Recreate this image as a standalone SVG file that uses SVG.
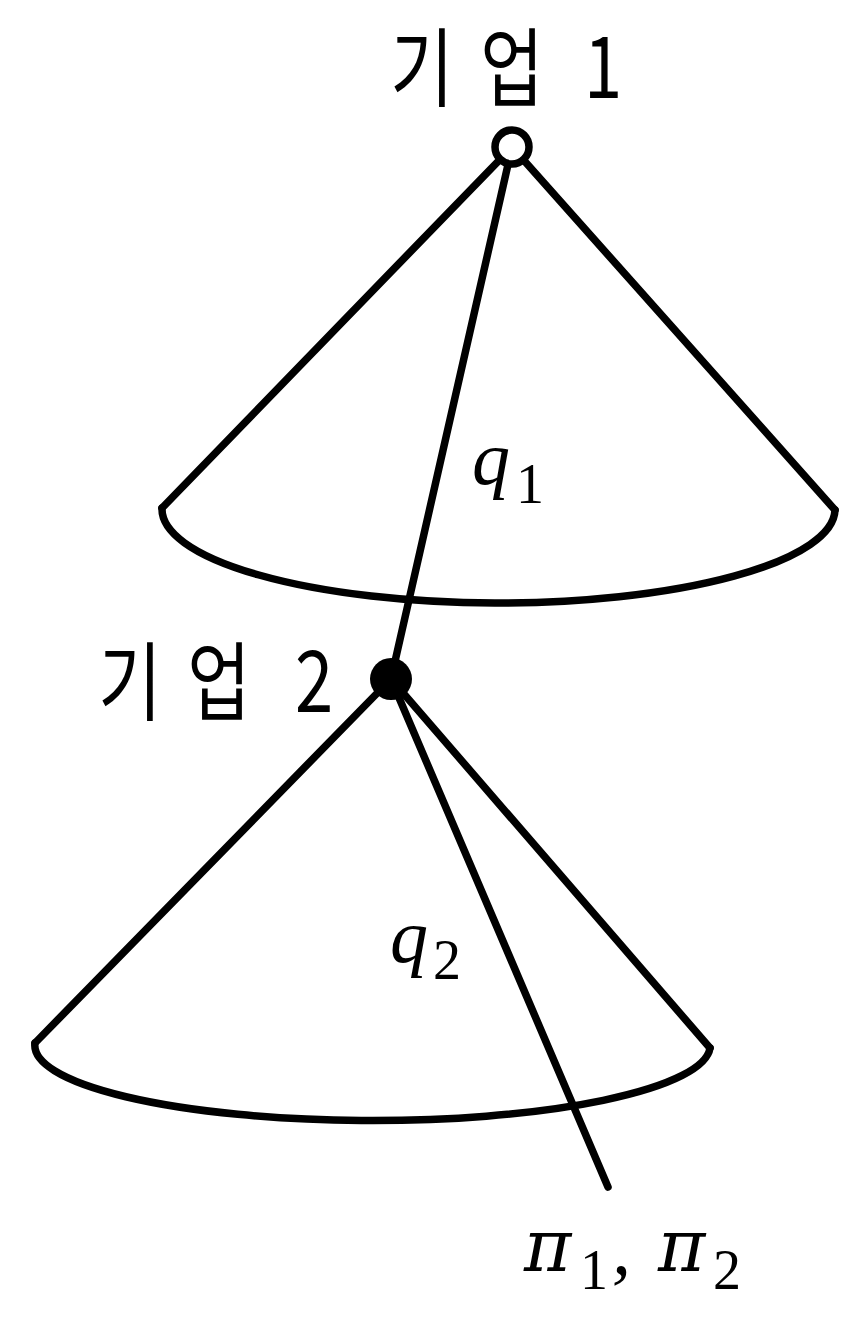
<svg xmlns="http://www.w3.org/2000/svg" width="850" height="1322" viewBox="0 0 850 1322">
<style>
.ln{stroke:#000;stroke-width:7.5;fill:none;stroke-linecap:round;stroke-linejoin:round}
.kr{font-family:"Noto Sans CJK KR","Noto Sans",sans-serif;font-size:86px;fill:#000;text-anchor:middle}
.m{font-family:"Liberation Serif","DejaVu Serif",serif;font-size:76px;font-style:italic;fill:#000}
.pi{font-family:"DejaVu Serif","Liberation Serif",serif;font-size:72px;font-style:italic;fill:#000}
.s{font-family:"Liberation Serif","DejaVu Serif",serif;font-size:56px;font-style:normal;fill:#000}
</style>
<rect width="850" height="1322" fill="#fff"/>
<g id="connectors">
<line class="ln" x1="512" y1="147" x2="162" y2="508"/>
<line class="ln" x1="512" y1="147" x2="835" y2="510"/>
<line class="ln" x1="512" y1="147" x2="391" y2="679"/>
<line class="ln" x1="391" y1="679" x2="35" y2="1043"/>
<line class="ln" x1="391" y1="679" x2="710" y2="1048"/>
<line class="ln" x1="391" y1="679" x2="608" y2="1187"/>
</g>
<g id="cone1">
<path class="ln" d="M162 508 A336.5 94 0 0 0 835 510"/>
</g>
<g id="cone2">
<path class="ln" d="M35 1043 A337.5 75 0 0 0 710 1048"/>
</g>
<g id="firm1">
<circle cx="512" cy="147" r="17" fill="#fff" stroke="#000" stroke-width="7.5"/>
<text class="kr" transform="translate(422,100) scale(0.8,1)">기</text>
<text class="kr" transform="translate(512,100) scale(0.8,1)">업</text>
<text class="kr" transform="translate(603,98) scale(0.8,1)">1</text>
</g>
<g id="firm2">
<circle cx="391" cy="679" r="21" fill="#000"/>
<text class="kr" transform="translate(130,714) scale(0.8,1)">기</text>
<text class="kr" transform="translate(219,714) scale(0.8,1)">업</text>
<text class="kr" transform="translate(314,712) scale(0.8,1)">2</text>
</g>
<g id="q1">
<text class="m" x="472" y="484">q</text>
<text class="s" x="516" y="503">1</text>
</g>
<g id="q2">
<text class="m" x="390" y="962">q</text>
<text class="s" x="433" y="979">2</text>
</g>
<g id="payoff">
<text class="pi" x="524" y="1271">π</text>
<text class="s" x="580" y="1289">1</text>
<text class="m" x="612" y="1274">,</text>
<text class="pi" x="658" y="1271">π</text>
<text class="s" x="713" y="1289">2</text>
</g>
</svg>
